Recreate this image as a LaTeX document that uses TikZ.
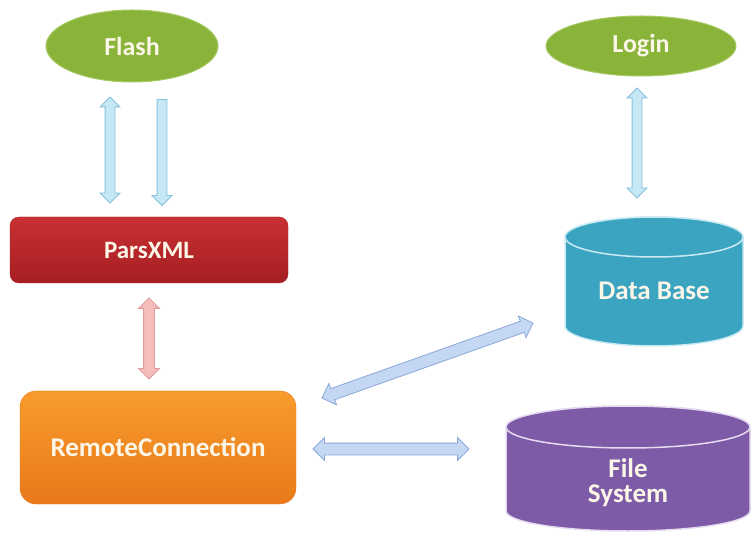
\documentclass[tikz,border=0pt]{standalone}
\usepackage{fontspec}
\setmainfont{Carlito}
\usetikzlibrary{shapes.geometric,shapes.arrows,calc}
\definecolor{grn}{HTML}{8AB33A}
\definecolor{grnrim}{HTML}{A6C963}
\definecolor{redtop}{HTML}{C93033}
\definecolor{redbot}{HTML}{A51E22}
\definecolor{orgtop}{HTML}{F89B2C}
\definecolor{orgbot}{HTML}{E8791A}
\definecolor{teal}{HTML}{3BA4C1}
\definecolor{tealrim}{HTML}{C9EAF3}
\definecolor{purp}{HTML}{7D5BA6}
\definecolor{purprim}{HTML}{E6DBF1}
\definecolor{skyfill}{HTML}{C6E7F4}
\definecolor{skydraw}{HTML}{86C2DD}
\definecolor{perifill}{HTML}{C5D8F3}
\definecolor{peridraw}{HTML}{8CA7DA}
\definecolor{pinkfill}{HTML}{F6BDBD}
\definecolor{pinkdraw}{HTML}{E19A9A}
\definecolor{txt}{HTML}{FBF6E8}
\newcommand{\blockarr}[4]{\path let \p1=($(#3)-(#2)$), \n1={veclen(\x1,\y1)}, \n2={atan2(\y1,\x1)} in node[#4, rotate=\n2, minimum height=\n1] (#1) at ($(#2)!0.5!(#3)$) {};}
\begin{document}
\begin{tikzpicture}[x=1pt,y=1pt,
  lbl/.style={text=txt, font=\bfseries\fontsize{26}{26}\selectfont},
  oval/.style={ellipse, fill=grn, draw=grnrim, line width=1pt, lbl},
  dblarr/.style={double arrow, double arrow head extend=5pt, double arrow tip angle=90,
    inner xsep=0pt, inner ysep=4.5pt, line width=0.8pt},
  sglarr/.style={single arrow, single arrow head extend=5pt, single arrow tip angle=90,
    inner xsep=0pt, inner ysep=4.5pt, line width=0.8pt},
  sky/.style={fill=skyfill, draw=skydraw},
  peri/.style={fill=perifill, draw=peridraw, inner ysep=5.5pt, double arrow head extend=5.5pt},
  pinky/.style={fill=pinkfill, draw=pinkdraw, inner ysep=5pt}
]
\useasboundingbox (0,0) rectangle (752,533);

% ovals
\node[oval, minimum width=172pt, minimum height=72pt] (flash) at (132,487) {Flash};
\node[oval, minimum width=190pt, minimum height=60pt] (login) at (641,487) {Login};

% boxes
\node[rectangle, rounded corners=9pt, top color=redtop, bottom color=redbot, draw=redbot,
  minimum width=278pt, minimum height=66pt, lbl, font=\bfseries\fontsize{25}{25}\selectfont] (pars) at (149,283) {ParsXML};
\node[rectangle, rounded corners=16pt, top color=orgtop, bottom color=orgbot, draw=orgbot,
  minimum width=276pt, minimum height=113pt, lbl, font=\bfseries\fontsize{27}{27}\selectfont] (remote) at (158,85.5) {RemoteConnection};

% Data Base cylinder
\path[fill=teal, draw=tealrim, line width=1.5pt]
  (565,296) -- (565,207) arc (180:360:89 and 20) -- (743,296) arc (0:180:89 and 20) -- cycle;
\path[fill=teal, draw=tealrim, line width=1.5pt] (654,296) ellipse (89 and 20);
\node[lbl, font=\bfseries\fontsize{27}{27}\selectfont] (db) at (654,242) {Data Base};

% File System cylinder
\path[fill=purp, draw=purprim, line width=1.5pt]
  (506,106) -- (506,22) arc (180:360:122 and 20) -- (750,106) arc (0:180:122 and 21) -- cycle;
\path[fill=purp, draw=purprim, line width=1.5pt] (628,106) ellipse (122 and 21);
\node[lbl, align=center, font=\bfseries\fontsize{27}{25}\selectfont] (fs) at (628,50) {File\\System};

% arrow end points
\coordinate (f1a) at (110,436); \coordinate (f1b) at (110,330);
\coordinate (f2a) at (162,436); \coordinate (f2b) at (162,330);
\coordinate (p1) at (149,235); \coordinate (p2) at (149,154);
\coordinate (l1) at (637,445); \coordinate (l2) at (637,335);
\coordinate (d1) at (322,135); \coordinate (d2) at (533,210);
\coordinate (h1) at (313,84); \coordinate (h2) at (469,84);

\blockarr{flashpars}{f1a}{f1b}{dblarr, sky}
\blockarr{flashdown}{f2a}{f2b}{sglarr, sky}
\blockarr{parsremote}{p1}{p2}{dblarr, pinky}
\blockarr{logindb}{l1}{l2}{dblarr, sky}
\blockarr{remotedb}{d1}{d2}{dblarr, peri}
\blockarr{remotefs}{h1}{h2}{dblarr, peri}
\end{tikzpicture}
\end{document}
